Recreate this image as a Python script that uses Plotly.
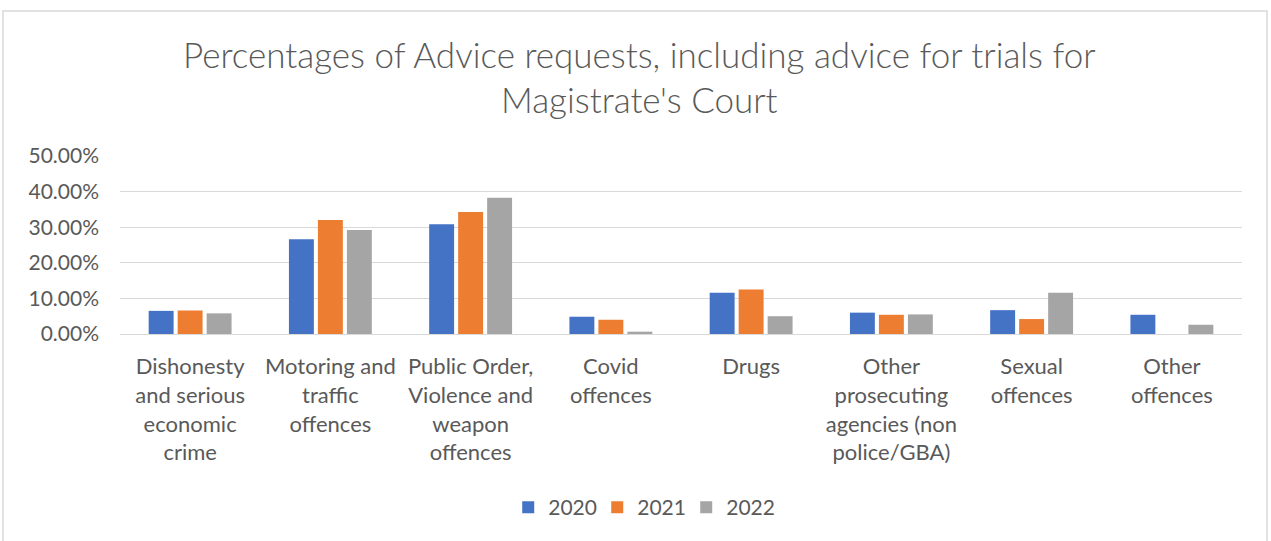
import plotly.graph_objects as go

categories = [
    "Dishonesty<br>and serious<br>economic<br>crime",
    "Motoring and<br>traffic<br>offences",
    "Public Order,<br>Violence and<br>weapon<br>offences",
    "Covid<br>offences",
    "Drugs",
    "Other<br>prosecuting<br>agencies (non<br>police/GBA)",
    "Sexual<br>offences",
    "Other<br>offences",
]
years = ["2020", "2021", "2022"]
values_2020 = [0.065, 0.266, 0.308, 0.0485, 0.116, 0.060, 0.067, 0.054]
values_2021 = [0.066, 0.320, 0.343, 0.040, 0.125, 0.054, 0.042, 0.0]
values_2022 = [0.058, 0.292, 0.383, 0.0065, 0.050, 0.055, 0.116, 0.026]
colors = ["#4472C4", "#ED7D31", "#A5A5A5"]

font_family = "Lato, 'Open Sans', sans-serif"
text_color = "#595959"
grid_color = "#D9D9D9"

fig = go.Figure()
for name, vals, col in zip(years, [values_2020, values_2021, values_2022], colors):
    fig.add_trace(go.Bar(
        name=name, x=categories, y=vals,
        marker=dict(color=col, line=dict(width=0)),
    ))

fig.update_layout(
    width=1271, height=541,
    margin=dict(l=120, r=29, t=156, b=207),
    paper_bgcolor="white", plot_bgcolor="white",
    barmode="group", bargap=0.38, bargroupgap=0.14,
    title=dict(
        text="Percentages of Advice requests, including advice for trials for<br>Magistrate's Court",
        x=0.503, xref="container", xanchor="center",
        y=0.875, yref="container", yanchor="middle",
        font=dict(family="Lato Light, Lato, sans-serif", size=35, color=text_color),
    ),
    font=dict(family=font_family, color=text_color),
    legend=dict(
        orientation="h", x=0.465, xanchor="center", y=-0.975, yanchor="middle",
        font=dict(size=21, color=text_color),
        itemwidth=30, traceorder="normal",
        entrywidth=44, entrywidthmode="pixels",
    ),
    showlegend=True,
    shapes=[dict(
        type="rect", xref="paper", yref="paper",
        x0=-0.1043, x1=1.0223, y0=-1.2, y1=1.8146,
        line=dict(color=grid_color, width=1.5), fillcolor="rgba(0,0,0,0)",
        layer="below",
    )],
)
fig.update_xaxes(
    showgrid=False, showline=True, linecolor=grid_color, linewidth=1,
    ticks="", tickfont=dict(size=22, color=text_color), tickangle=0,
    ticklabelstandoff=13,
)
fig.update_yaxes(
    range=[0, 0.5], dtick=0.1, tickformat=".2%",
    showgrid=True, gridcolor=grid_color, gridwidth=1,
    zeroline=True, zerolinecolor=grid_color, zerolinewidth=1,
    tickfont=dict(size=21, color=text_color), ticks="", ticklen=0,
    ticklabelstandoff=20,
    showline=False,
)

fig.write_html("out.html")
